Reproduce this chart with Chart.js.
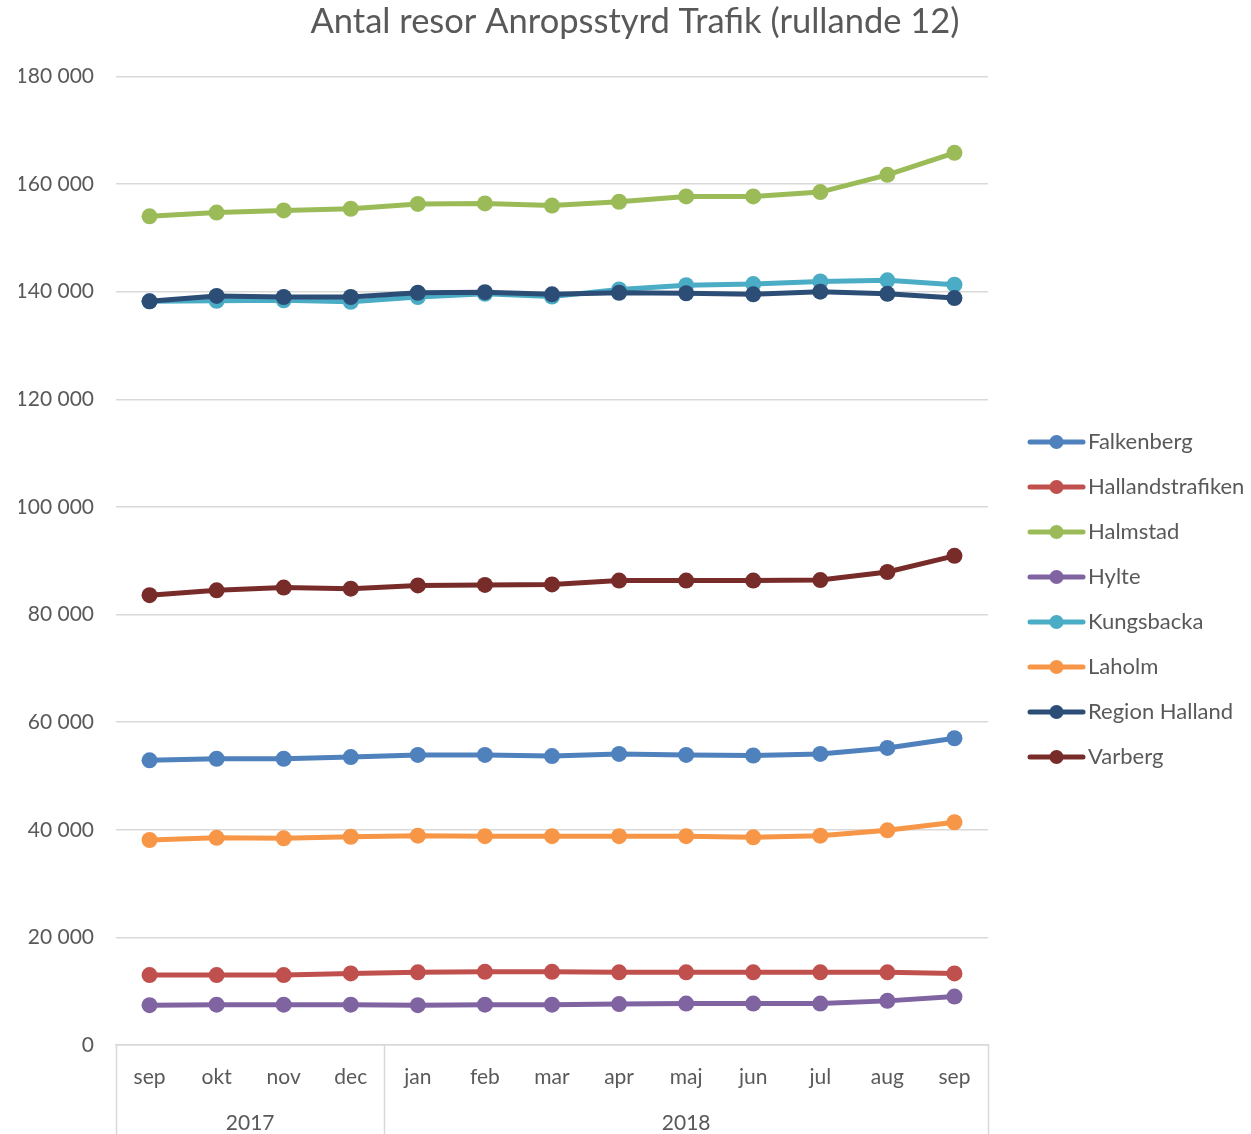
<!DOCTYPE html>
<html lang="sv">
<head>
<meta charset="utf-8">
<title>Antal resor Anropsstyrd Trafik</title>
<script src="https://cdn.jsdelivr.net/npm/chart.js@4.4.1/dist/chart.umd.min.js"></script>
<style>
  html, body { margin: 0; padding: 0; background: #fff; }
  #wrap { width: 1251px; height: 1134px; overflow: hidden; }
</style>
</head>
<body>
<div id="wrap"><canvas id="resor" width="1251" height="1134"></canvas></div>
<script>
// Månader (rullande 12) och år
const months = ['sep', 'okt', 'nov', 'dec', 'jan', 'feb', 'mar', 'apr', 'maj', 'jun', 'jul', 'aug', 'sep'];
const yearLabels = ['2017', '2018'];
const yearSpans = [4, 9];

// Antal resor per område
const falkenberg = [52900, 53200, 53200, 53500, 53900, 53900, 53700, 54100, 53900, 53800, 54100, 55200, 57000];
const hallandstrafiken = [13000, 13000, 13000, 13300, 13500, 13600, 13600, 13500, 13500, 13500, 13500, 13500, 13300];
const halmstad = [154000, 154700, 155100, 155400, 156300, 156400, 156000, 156700, 157700, 157700, 158500, 161700, 165800];
const hylte = [7400, 7500, 7500, 7500, 7400, 7500, 7500, 7600, 7700, 7700, 7700, 8200, 9000];
const kungsbacka = [138200, 138300, 138400, 138100, 139000, 139600, 139100, 140400, 141200, 141400, 141900, 142100, 141300];
const laholm = [38100, 38500, 38400, 38700, 38900, 38800, 38800, 38800, 38800, 38600, 38900, 39900, 41400];
const regionHalland = [138200, 139200, 139000, 139000, 139800, 139900, 139500, 139800, 139700, 139500, 140000, 139600, 138800];
const varberg = [83600, 84500, 85000, 84800, 85400, 85500, 85600, 86300, 86300, 86300, 86400, 87900, 90900];

// Y-axelns steg
const yMin = 0;
const yMax = 180000;
const yStep = 20000;

const textColor = '#595959';
const gridColor = '#d9d9d9';
const fontFamily = 'Lato, "Open Sans", sans-serif';

const series = [
    { label: 'Falkenberg', data: falkenberg, color: '#4f81bd' },
    { label: 'Hallandstrafiken', data: hallandstrafiken, color: '#c0504d' },
    { label: 'Halmstad', data: halmstad, color: '#9bbb59' },
    { label: 'Hylte', data: hylte, color: '#8064a2' },
    { label: 'Kungsbacka', data: kungsbacka, color: '#4bacc6' },
    { label: 'Laholm', data: laholm, color: '#f79646' },
    { label: 'Region Halland', data: regionHalland, color: '#2c4d75' },
    { label: 'Varberg', data: varberg, color: '#772c2a' }
];

// Liten bild för legenden: linje med punkt i mitten.
// Bilden centreras av Chart.js, så linjen ritas förskjuten åt höger.
function legendSymbol(color) {
    const c = document.createElement('canvas');
    c.width = 84;
    c.height = 18;
    const ctx = c.getContext('2d');
    ctx.strokeStyle = color;
    ctx.lineWidth = 5;
    ctx.lineCap = 'round';
    ctx.beginPath();
    ctx.moveTo(28, 9);
    ctx.lineTo(81, 9);
    ctx.stroke();
    ctx.fillStyle = color;
    ctx.beginPath();
    ctx.arc(54.5, 9, 7, 0, Math.PI * 2);
    ctx.fill();
    return c;
}
const symbols = series.map(s => legendSymbol(s.color));

function formatTal(value) {
    return String(value).replace(/\B(?=(\d{3})+(?!\d))/g, ' ');
}

// Årsrad och avgränsare under månaderna, som i Excel
const yearRowPlugin = {
    id: 'yearRow',
    afterDraw(chart) {
        const x = chart.scales.x;
        const ctx = chart.ctx;
        const bottom = chart.chartArea.bottom;
        const half = (x.getPixelForValue(1) - x.getPixelForValue(0)) / 2;
        ctx.save();
        ctx.strokeStyle = gridColor;
        ctx.lineWidth = 1.5;
        ctx.fillStyle = textColor;
        ctx.font = '21px ' + fontFamily;
        ctx.textAlign = 'center';
        ctx.textBaseline = 'middle';
        let start = 0;
        const edges = [x.getPixelForValue(0) - half];
        yearSpans.forEach((span, i) => {
            const left = x.getPixelForValue(start) - half;
            const right = x.getPixelForValue(start + span - 1) + half;
            edges.push(right);
            ctx.fillText(yearLabels[i], (left + right) / 2, bottom + 78);
            start += span;
        });
        edges.forEach(px => {
            ctx.beginPath();
            ctx.moveTo(Math.round(px) + 0.5, bottom);
            ctx.lineTo(Math.round(px) + 0.5, chart.height);
            ctx.stroke();
        });
        ctx.restore();
    }
};

const ctx = document.getElementById('resor').getContext('2d');
new Chart(ctx, {
    type: 'line',
    data: {
        labels: months,
        datasets: series.map((s, i) => ({
            label: s.label,
            data: s.data,
            borderColor: s.color,
            backgroundColor: s.color,
            pointBackgroundColor: s.color,
            pointBorderWidth: 0,
            pointRadius: 8,
            pointStyle: 'circle',
            borderWidth: 5,
            tension: 0,
            order: series.length - i
        }))
    },
    options: {
        responsive: false,
        animation: false,
        layout: { padding: { left: 19, right: 0, top: 0, bottom: 0 } },
        plugins: {
            title: {
                display: true,
                text: 'Antal resor Anropsstyrd Trafik (rullande 12)',
                color: textColor,
                font: { family: fontFamily, size: 34.5, weight: 'normal' },
                padding: { top: 1, bottom: 34 }
            },
            legend: {
                position: 'right',
                align: 'center',
                maxWidth: 263,
                title: {
                    display: true,
                    text: ' ',
                    font: { size: 1, lineHeight: 1 },
                    padding: { top: 0, bottom: 64 }
                },
                labels: {
                    usePointStyle: true,
                    pointStyleWidth: 66,
                    padding: 23,
                    color: textColor,
                    font: { family: fontFamily, size: 22 },
                    sort: (a, b) => a.datasetIndex - b.datasetIndex,
                    generateLabels(chart) {
                        const items = Chart.defaults.plugins.legend.labels.generateLabels(chart);
                        items.forEach(item => { item.pointStyle = symbols[item.datasetIndex]; });
                        return items;
                    }
                }
            },
            tooltip: { enabled: false }
        },
        scales: {
            x: {
                offset: true,
                grid: { display: false },
                border: { display: true, color: gridColor, width: 1.5 },
                ticks: {
                    color: textColor,
                    font: { family: fontFamily, size: 21 },
                    padding: 12,
                    maxRotation: 0,
                    autoSkip: false
                },
                afterFit(scale) { scale.height = 89; }
            },
            y: {
                min: yMin,
                max: yMax,
                grid: { color: gridColor, lineWidth: 1.5, drawTicks: false },
                border: { display: false },
                ticks: {
                    stepSize: yStep,
                    color: textColor,
                    font: { family: fontFamily, size: 21 },
                    padding: 22,
                    callback: v => formatTal(v)
                },
                afterFit(scale) { scale.width = 97; }
            }
        }
    },
    plugins: [yearRowPlugin]
});
</script>
</body>
</html>
